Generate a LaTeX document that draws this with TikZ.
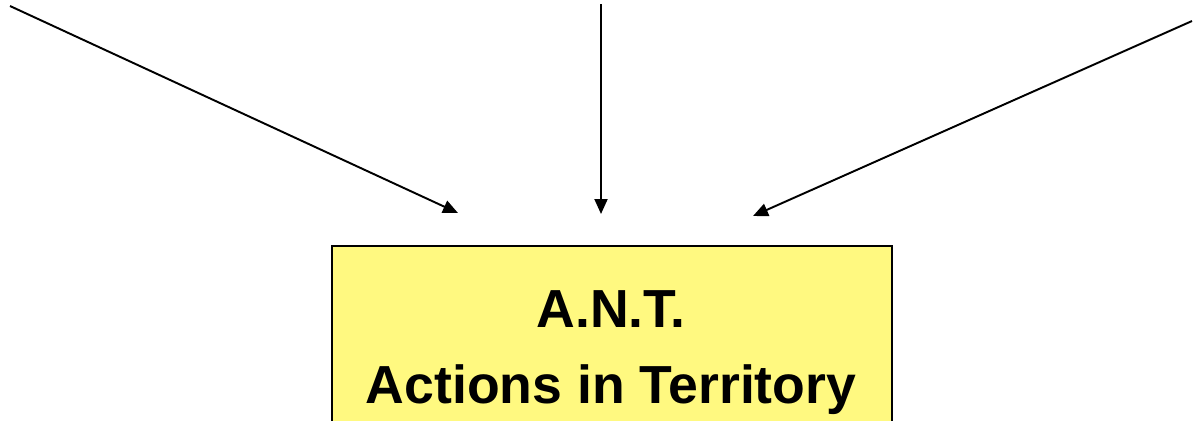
\documentclass[tikz,border=0pt]{standalone}
\usepackage{fontspec}
\setmainfont{Liberation Sans}
\usetikzlibrary{arrows.meta}
\definecolor{antyellow}{RGB}{255,249,128}

\tikzset{
  inarrow/.style={-{Triangle[length=0.3cm,width=0.26cm]}, line width=1.1pt},
  antbox/.style={draw=black, fill=antyellow, line width=1.1pt, anchor=north west,
    minimum width=11.2cm, minimum height=5.1cm},
  anttext/.style={anchor=base, font=\bfseries\fontsize{30.5}{43}\selectfont}
}

\begin{document}
\begin{tikzpicture}[x=0.02cm,y=-0.02cm]
    \useasboundingbox (0,0) rectangle (1193,420);
    \clip (0,0) rectangle (1193,420);
    % box, cut at the bottom
    \node (ant) [antbox] at (331,245) {};
    \node (antname) [anttext] at (611,327) {A.N.T.};
    \node (antsub) [anttext] at (611,403) {Actions in Territory};
    %
    \coordinate (lsrc) at (10,6);
    \coordinate (ltip) at (458,213);
    \coordinate (msrc) at (601,4);
    \coordinate (mtip) at (601,214);
    \coordinate (rsrc) at (1192,21);
    \coordinate (rtip) at (753,216);
    \draw[inarrow] (lsrc) -- (ltip);
    \draw[inarrow] (msrc) -- (mtip);
    \draw[inarrow] (rsrc) -- (rtip);
\end{tikzpicture}
\end{document}
